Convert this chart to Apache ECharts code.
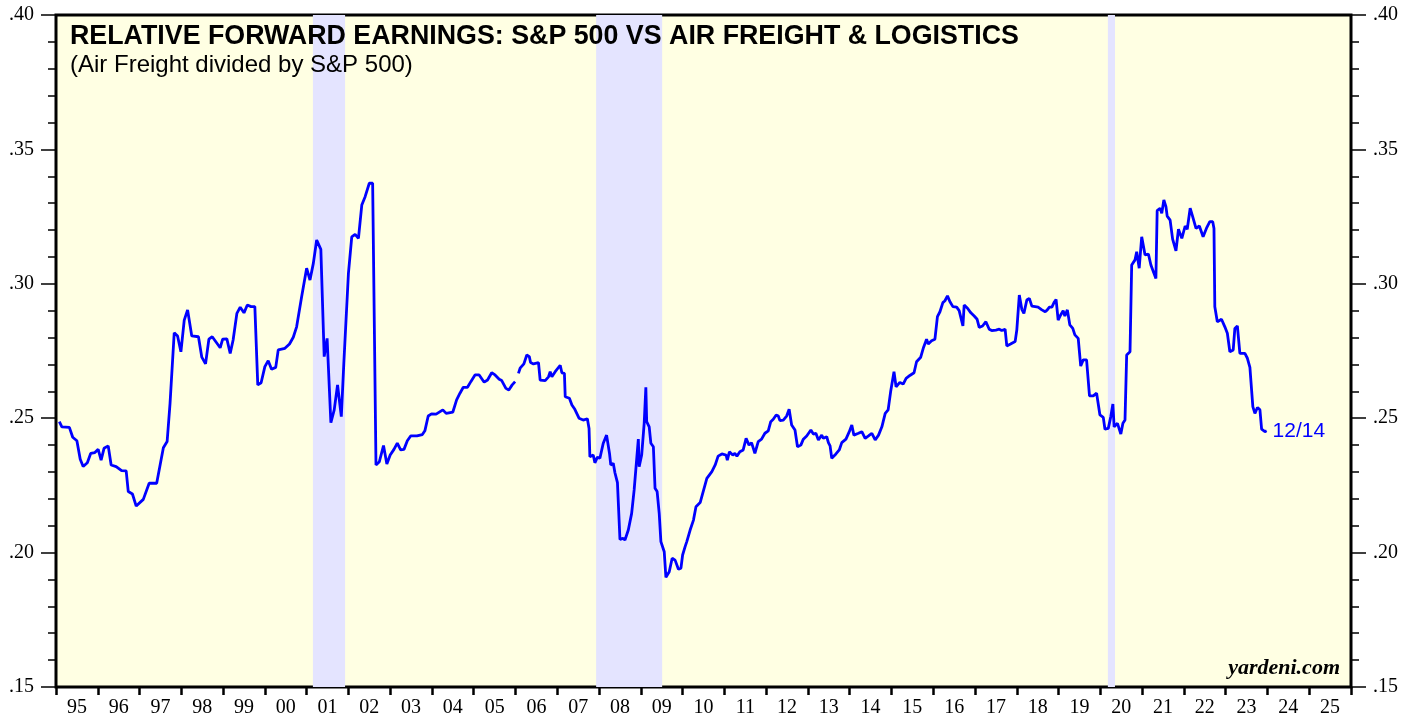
<!DOCTYPE html>
<html>
<head>
<meta charset="utf-8">
<script src="https://cdn.jsdelivr.net/npm/echarts@6/dist/echarts.min.js"></script>
<style>
  html, body { margin: 0; padding: 0; background: #fff; }
  #main { width: 1417px; height: 719px; }
</style>
</head>
<body>
<div id="main"></div>
<script>
// x: fractional year, y: relative forward earnings (Air Freight / S&P 500)
var dates = [
  1995.08,1995.14,1995.32,1995.40,1995.50,1995.58,1995.65,1995.75,1995.83,1995.93,
  1996.01,1996.08,1996.15,1996.25,1996.32,1996.44,1996.57,1996.68,1996.73,1996.83,
  1996.92,1997.09,1997.23,1997.41,1997.57,1997.66,1997.73,1997.83,1997.91,1997.99,
  1998.07,1998.15,1998.25,1998.41,1998.49,1998.58,1998.66,1998.74,1998.93,1998.99,
  1999.09,1999.17,1999.24,1999.33,1999.41,1999.50,1999.58,1999.67,1999.76,1999.83,
  1999.91,2000.00,2000.08,2000.16,2000.26,2000.32,2000.48,2000.59,2000.68,2000.76,
  2000.88,2001.00,2001.08,2001.16,2001.24,2001.34,2001.42,2001.49,2001.58,2001.66,
  2001.74,2001.83,2001.89,2002.00,2002.08,2002.16,2002.24,2002.32,2002.40,2002.50,
  2002.58,2002.66,2002.74,2002.84,2002.92,2003.00,2003.09,2003.17,2003.25,2003.33,
  2003.41,2003.49,2003.64,2003.77,2003.83,2003.91,2003.99,2004.10,2004.26,2004.34,
  2004.50,2004.59,2004.67,2004.75,2004.85,2004.93,2005.03,2005.13,2005.25,2005.33,
  2005.43,2005.51,2005.61,2005.67,2005.77,2005.84,2005.92,2005.99,2006.03,2006.07,
  2006.11,2006.20,2006.27,2006.33,2006.36,2006.43,2006.55,2006.59,2006.71,2006.79,
  2006.83,2006.87,2006.95,2007.07,2007.11,2007.17,2007.19,2007.29,2007.35,2007.42,
  2007.52,2007.62,2007.72,2007.76,2007.78,2007.86,2007.90,2007.96,2008.02,2008.10,
  2008.18,2008.25,2008.28,2008.34,2008.38,2008.44,2008.50,2008.57,2008.62,2008.70,
  2008.78,2008.84,2008.94,2008.96,2009.02,2009.08,2009.12,2009.14,2009.20,2009.24,
  2009.30,2009.34,2009.39,2009.44,2009.48,2009.56,2009.60,2009.68,2009.75,2009.82,
  2009.90,2009.96,2010.00,2010.06,2010.10,2010.18,2010.26,2010.32,2010.42,2010.58,
  2010.70,2010.78,2010.85,2010.94,2011.04,2011.07,2011.12,2011.20,2011.25,2011.30,
  2011.37,2011.45,2011.52,2011.59,2011.65,2011.73,2011.81,2011.89,2011.97,2012.05,
  2012.11,2012.17,2012.24,2012.29,2012.33,2012.41,2012.49,2012.55,2012.61,2012.69,
  2012.75,2012.83,2012.89,2012.97,2013.07,2013.13,2013.19,2013.25,2013.33,2013.37,
  2013.45,2013.49,2013.53,2013.57,2013.67,2013.75,2013.81,2013.91,2013.99,2014.05,
  2014.10,2014.21,2014.29,2014.37,2014.45,2014.53,2014.61,2014.69,2014.77,2014.85,
  2014.92,2014.98,2015.06,2015.11,2015.20,2015.28,2015.35,2015.44,2015.54,2015.60,
  2015.70,2015.76,2015.84,2015.88,2015.96,2016.04,2016.10,2016.16,2016.23,2016.28,
  2016.34,2016.40,2016.47,2016.56,2016.62,2016.66,2016.71,2016.74,2016.82,2016.90,
  2016.98,2017.05,2017.10,2017.18,2017.26,2017.34,2017.40,2017.50,2017.58,2017.64,
  2017.72,2017.76,2017.85,2017.96,2018.00,2018.06,2018.12,2018.17,2018.24,2018.30,
  2018.36,2018.44,2018.51,2018.60,2018.68,2018.73,2018.78,2018.84,2018.89,2018.94,
  2018.99,2019.05,2019.11,2019.15,2019.21,2019.27,2019.34,2019.39,2019.47,2019.53,
  2019.59,2019.67,2019.74,2019.83,2019.91,2019.99,2020.07,2020.11,2020.19,2020.25,
  2020.30,2020.33,2020.41,2020.49,2020.54,2020.59,2020.63,2020.71,2020.75,2020.83,
  2020.87,2020.93,2020.99,2021.07,2021.15,2021.21,2021.25,2021.33,2021.36,2021.43,
  2021.47,2021.52,2021.57,2021.60,2021.67,2021.73,2021.81,2021.87,2021.95,2022.03,
  2022.08,2022.15,2022.21,2022.29,2022.37,2022.46,2022.55,2022.62,2022.69,2022.72,
  2022.74,2022.80,2022.90,2022.98,2023.04,2023.10,2023.18,2023.22,2023.28,2023.34,
  2023.46,2023.52,2023.58,2023.62,2023.65,2023.70,2023.76,2023.82,2023.86,2023.94,
  2023.98
];
var ratio = [
  .2487,.2468,.2466,.2429,.2416,.2347,.2320,.2334,.2369,.2372,
  .2384,.2344,.2388,.2397,.2326,.2320,.2305,.2304,.2227,.2218,
  .2173,.2198,.2258,.2258,.2390,.2413,.2555,.2818,.2806,.2747,
  .2865,.2903,.2806,.2803,.2727,.2702,.2794,.2803,.2762,.2794,
  .2795,.2741,.2791,.2890,.2913,.2892,.2921,.2915,.2915,.2624,
  .2632,.2692,.2714,.2682,.2689,.2754,.2760,.2776,.2801,.2840,
  .2952,.3058,.3014,.3076,.3163,.3128,.2729,.2797,.2483,.2531,
  .2624,.2506,.2704,.3039,.3175,.3184,.3169,.3293,.3324,.3374,
  .3374,.2326,.2338,.2398,.2330,.2363,.2384,.2407,.2382,.2384,
  .2416,.2434,.2434,.2439,.2453,.2508,.2516,.2515,.2531,.2518,
  .2523,.2568,.2593,.2615,.2615,.2636,.2661,.2661,.2634,.2642,
  .2669,.2661,.2645,.2640,.2611,.2605,.2624,.2636,'-',.2667,
  .2686,.2702,.2735,.2729,.2707,.2702,.2707,.2642,.2640,.2654,
  .2673,.2654,.2673,.2697,.2669,.2667,.2580,.2574,.2549,.2533,
  .2500,.2493,.2498,.2462,.2357,.2363,.2334,.2355,.2351,.2407,
  .2437,.2369,.2326,.2332,.2297,.2260,.2049,.2053,.2047,.2084,
  .2146,.2233,.2422,.2320,.2363,.2481,.2615,.2487,.2468,.2407,
  .2394,.2239,.2227,.2146,.2041,.2003,.1908,.1929,.1979,.1972,
  .1938,.1942,.1991,.2022,.2041,.2084,.2121,.2171,.2186,.2276,
  .2301,.2326,.2359,.2367,.2363,.2344,.2375,.2363,.2369,.2359,
  .2375,.2382,.2425,.2400,.2409,.2369,.2413,.2422,.2444,.2453,
  .2487,.2496,.2512,.2508,.2491,.2493,.2508,.2533,.2475,.2456,
  .2394,.2400,.2422,.2434,.2456,.2441,.2444,.2419,.2437,.2425,
  .2431,.2409,.2397,.2351,.2367,.2382,.2409,.2422,.2450,.2475,
  .2437,.2444,.2450,.2425,.2434,.2444,.2419,.2437,.2468,.2518,
  .2531,.2599,.2673,.2617,.2633,.2627,.2648,.2659,.2669,.2710,
  .2727,.2760,.2794,.2776,.2788,.2794,.2878,.2896,.2930,.2937,
  .2955,.2933,.2915,.2913,.2900,.2903,.2843,.2921,.2909,.2892,
  .2880,.2868,.2838,.2843,.2859,.2831,.2826,.2828,.2831,.2826,
  .2831,.2769,.2776,.2785,.2828,.2958,.2905,.2890,.2940,.2946,
  .2917,.2915,.2913,.2903,.2896,.2903,.2913,.2913,.2930,.2942,
  .2865,.2884,.2900,.2880,.2903,.2847,.2834,.2810,.2797,.2694,
  .2717,.2717,.2583,.2583,.2593,.2512,.2503,.2459,.2462,.2506,
  .2553,.2468,.2481,.2441,.2481,.2493,.2735,.2747,.3070,.3089,
  .3119,.3058,.3175,.3107,.3111,.3070,.3076,.3020,.3272,.3281,
  .3262,.3312,.3287,.3252,.3237,.3166,.3123,.3203,.3169,.3215,
  .3203,.3281,.3250,.3206,.3215,.3175,.3210,.3231,.3231,.3206,
  .2915,.2859,.2868,.2840,.2816,.2747,.2754,.2834,.2843,.2741,
  .2741,.2723,.2689,.2686,.2543,.2518,.2540,.2531,.2459,.2450,
  .2453
];
var yearLabels = ['95','96','97','98','99','00','01','02','03','04','05','06','07','08','09',
  '10','11','12','13','14','15','16','17','18','19','20','21','22','23','24','25'];
var recessions = [[2001.15, 2001.92], [2007.93, 2009.51], [2020.18, 2020.35]];
var lastDate = '12/14';

var chart = echarts.init(document.getElementById('main'));

var points = dates.map(function (d, i) { return [d, ratio[i]]; });

var serif = 'Liberation Serif';
var sans = 'Liberation Sans';

var yAxisBase = function (pos) {
  return {
    type: 'value',
    position: pos,
    min: 0.15,
    max: 0.40,
    interval: 0.05,
    axisLine: { show: false },
    axisTick: { show: true, inside: false, length: 15, lineStyle: { color: '#000', width: 1.5 } },
    minorTick: { show: true, splitNumber: 5, length: 8, lineStyle: { color: '#000', width: 1.5 } },
    splitLine: { show: false },
    axisLabel: {
      margin: 22,
      color: '#000',
      fontFamily: serif,
      fontSize: 20,
      formatter: function (v) { return v.toFixed(2).slice(1); }
    }
  };
};

chart.setOption({
  animation: false,
  backgroundColor: '#fff',
  grid: {
    left: 56, right: 66, top: 15, bottom: 32,
    show: true,
    backgroundColor: '#FFFFE3',
    borderColor: '#000',
    borderWidth: 3
  },
  title: {
    text: 'RELATIVE FORWARD EARNINGS: S&P 500 VS AIR FREIGHT & LOGISTICS',
    subtext: '(Air Freight divided by S&P 500)',
    left: 65,
    top: 18,
    itemGap: 3,
    textStyle: { fontFamily: sans, fontWeight: 'bold', fontSize: 26.8, color: '#000' },
    subtextStyle: { fontFamily: sans, fontSize: 24, color: '#000' }
  },
  graphic: [{
    type: 'text',
    right: 77,
    top: 657,
    style: {
      text: 'yardeni.com',
      font: 'italic bold 22px "Liberation Serif"',
      fill: '#000'
    }
  }],
  xAxis: [{
    type: 'value',
    min: 1995,
    max: 2026,
    show: false
  }, {
    type: 'category',
    position: 'bottom',
    data: yearLabels,
    boundaryGap: true,
    axisLine: { show: false },
    axisTick: { show: true, inside: false, length: 8, interval: 0, lineStyle: { color: '#000', width: 2.5 } },
    axisLabel: { interval: 0, margin: 11, color: '#000', fontFamily: serif, fontSize: 20 },
    splitLine: { show: false }
  }],
  yAxis: [yAxisBase('left'), yAxisBase('right')],
  series: [{
    type: 'line',
    xAxisIndex: 0,
    yAxisIndex: 0,
    data: [],
    z: 1,
    silent: true,
    markArea: {
      silent: true,
      itemStyle: { color: '#E4E4FF' },
      data: recessions.map(function (r) { return [{ xAxis: r[0] }, { xAxis: r[1] }]; })
    }
  }, {
    type: 'line',
    name: 'Air Freight / S&P 500',
    xAxisIndex: 0,
    yAxisIndex: 0,
    data: points,
    z: 3,
    showSymbol: false,
    connectNulls: false,
    lineStyle: { color: '#0000FF', width: 2.8 },
    endLabel: {
      show: true,
      formatter: lastDate,
      color: '#0000FF',
      fontFamily: sans,
      fontSize: 21,
      distance: 6
    }
  }]
});
</script>
</body>
</html>
